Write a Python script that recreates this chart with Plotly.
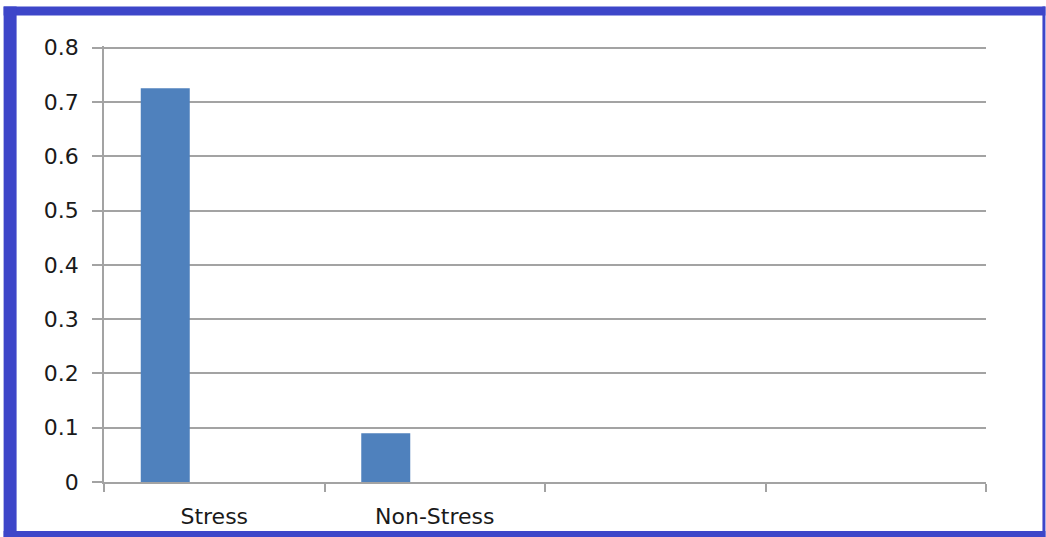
import plotly.graph_objects as go

# Data
categories = ["Stress", "Non-Stress", "", ""]
x_positions = [0, 1, 2, 3]
values = [0.725, 0.09, None, None]
y_ticks = [0, 0.1, 0.2, 0.3, 0.4, 0.5, 0.6, 0.7, 0.8]
y_ticktext = ["0", "0.1", "0.2", "0.3", "0.4", "0.5", "0.6", "0.7", "0.8"]

W, H = 1046, 537
Y_MAX = 0.803
L, R, B = 103.5, 986.5, 482
scale = (482 - 48) / 0.8
T = B - Y_MAX * scale
pw, ph = R - L, B - T

def px(x):
    return (x - L) / pw

def py(y):
    return (B - y) / ph

fig = go.Figure()
fig.add_trace(go.Bar(
    x=x_positions, y=values,
    marker=dict(color="#4f81bd", line=dict(width=0)),
    width=0.2222, offset=-0.3333,
    showlegend=False,
))

grid = "#a3a3a3"
font = dict(family="DejaVu Sans", size=22, color="#1a1a1a")

fig.update_layout(
    width=W, height=H,
    margin=dict(l=L, r=W - R, t=T, b=H - B, pad=0, autoexpand=False),
    paper_bgcolor="white", plot_bgcolor="white",
    font=font,
    xaxis=dict(
        range=[-0.5, 3.5],
        tickvals=x_positions, ticktext=categories,
        ticks="", showgrid=False, zeroline=False,
        showline=True, linecolor=grid, linewidth=1.5,
        ticklabelstandoff=14, automargin=False,
        minor=dict(tickvals=[-0.5, 0.5, 1.5, 2.5, 3.5], ticks="outside",
                   ticklen=8, tickcolor=grid, tickwidth=1.5, showgrid=False),
        fixedrange=True,
    ),
    yaxis=dict(
        range=[0, Y_MAX],
        tickvals=y_ticks, ticktext=y_ticktext,
        ticks="outside", ticklen=10, tickcolor=grid, tickwidth=1.5,
        showgrid=True, gridcolor=grid, gridwidth=1.5,
        zeroline=False,
        showline=True, linecolor=grid, linewidth=1.5,
        ticklabelstandoff=9, automargin=False,
        fixedrange=True,
    ),
)

blue = "#3d46c9"
border = [
    (3, 7, 1046, 16),      # top
    (3, 7, 16, 537),       # left
    (1043, 7, 1046, 537),  # right
    (3, 531, 1046, 537),   # bottom
]
for x0, y0, x1, y1 in border:
    fig.add_shape(type="rect", xref="paper", yref="paper",
                  x0=px(x0), x1=px(x1), y0=py(y1), y1=py(y0),
                  fillcolor=blue, line=dict(width=0), layer="above")

fig.write_html("out.html")
